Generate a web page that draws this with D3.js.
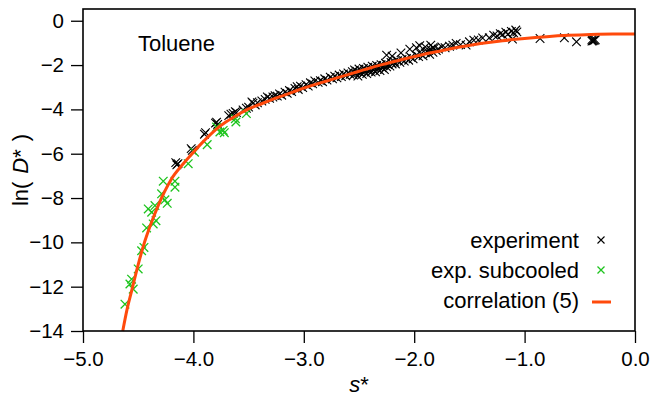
<!DOCTYPE html>
<html>
<head>
<meta charset="utf-8">
<script src="https://cdn.jsdelivr.net/npm/d3@7"></script>
<style>
  body { margin: 0; background: #fff; }
  svg { font-family: "Liberation Sans", Arial, Helvetica, sans-serif; }
</style>
</head>
<body>
<div id="wrapper"></div>
<script>
// data: [s*, ln(D*)]
const experiment = [
  [-4.16,-6.40],[-4.15,-6.50],[-4.14,-6.45],
  [-4.02,-5.77],[-4.01,-5.85],
  [-3.90,-5.12],[-3.89,-5.05],
  [-3.80,-4.62],[-3.78,-4.68],[-3.79,-4.58],
  [-3.68,-4.28],[-3.66,-4.22],[-3.64,-4.18],[-3.62,-4.10],[-3.61,-4.14],
  [-3.55,-4.02],[-3.52,-3.95],[-3.50,-3.90],
  [-3.47,-3.66],[-3.46,-3.72],[-3.44,-3.80],[-3.42,-3.70],
  [-3.38,-3.62],[-3.35,-3.55],[-3.33,-3.44],[-3.31,-3.50],
  [-3.28,-3.44],[-3.26,-3.38],[-3.24,-3.40],[-3.22,-3.30],[-3.20,-3.36],
  [-3.17,-3.22],[-3.15,-3.28],[-3.13,-3.15],[-3.11,-3.20],
  [-3.08,-3.05],[-3.06,-2.98],[-3.05,-3.10],[-3.03,-2.95],[-3.01,-3.02],
  [-2.98,-2.88],[-2.96,-2.95],[-2.94,-2.80],[-2.92,-2.85],[-2.90,-2.72],
  [-2.87,-2.78],[-2.85,-2.70],[-2.83,-2.75],[-2.81,-2.62],[-2.79,-2.68],
  [-2.76,-2.55],[-2.74,-2.62],[-2.72,-2.50],[-2.70,-2.58],[-2.68,-2.45],
  [-2.66,-2.52],[-2.64,-2.40],[-2.62,-2.48],[-2.60,-2.35],[-2.58,-2.42],
  [-2.56,-2.30],[-2.55,-2.45],[-2.54,-2.22],[-2.53,-2.38],[-2.52,-2.28],[-2.51,-2.50],
  [-2.50,-2.18],[-2.49,-2.35],[-2.48,-2.25],[-2.47,-2.42],[-2.46,-2.15],[-2.45,-2.30],
  [-2.44,-2.20],[-2.43,-2.38],[-2.42,-2.10],[-2.41,-2.28],[-2.40,-2.18],[-2.39,-2.32],
  [-2.38,-2.05],[-2.37,-2.22],[-2.36,-2.12],[-2.35,-2.30],[-2.34,-2.02],[-2.33,-2.18],
  [-2.32,-2.08],[-2.31,-2.25],[-2.30,-1.98],[-2.29,-2.12],[-2.28,-2.02],[-2.27,-2.20],
  [-2.26,-1.92],[-2.25,-2.08],[-2.24,-1.98],[-2.22,-2.05],[-2.21,-1.88],[-2.20,-1.95],
  [-2.18,-1.85],[-2.17,-1.95],[-2.15,-1.80],[-2.13,-1.88],[-2.11,-1.75],[-2.09,-1.82],
  [-2.07,-1.70],[-2.05,-1.78],[-2.03,-1.65],[-2.01,-1.72],
  [-2.25,-1.55],[-2.20,-1.60],[-2.12,-1.45],[-2.04,-1.28],[-1.98,-1.22],
  [-1.95,-1.12],[-1.90,-1.18],[-1.85,-1.10],[-1.83,-1.22],
  [-1.98,-1.55],[-1.96,-1.62],[-1.94,-1.50],[-1.92,-1.58],[-1.90,-1.45],
  [-1.88,-1.38],[-1.86,-1.52],[-1.85,-1.30],[-1.83,-1.42],[-1.82,-1.25],[-1.80,-1.35],
  [-1.78,-1.28],[-1.75,-1.18],[-1.72,-1.22],[-1.68,-1.15],[-1.65,-1.10],[-1.62,-1.02],
  [-1.58,-1.08],[-1.53,-1.10],[-1.50,-0.95],[-1.46,-0.88],[-1.42,-0.87],
  [-1.38,-0.78],[-1.32,-0.77],[-1.28,-0.65],[-1.25,-0.68],[-1.22,-0.58],[-1.20,-0.62],
  [-1.17,-0.52],[-1.15,-0.60],[-1.12,-0.48],[-1.11,-0.83],[-1.10,-0.55],[-1.08,-0.42],[-1.07,-0.50],
  [-0.86,-0.80],[-0.64,-0.77],[-0.53,-0.95],
  [-0.39,-0.85],[-0.38,-0.90],[-0.37,-0.88],[-0.39,-0.92],[-0.36,-0.86]
]

const subcooled = [
  [-4.62,-12.79],[-4.575,-11.88],[-4.56,-11.66],[-4.545,-12.11],[-4.50,-11.20],
  [-4.469,-10.38],[-4.448,-10.23],[-4.424,-9.35],[-4.409,-8.49],[-4.378,-8.64],
  [-4.348,-8.34],[-4.364,-9.17],[-4.339,-9.02],[-4.288,-7.81],[-4.258,-8.08],
  [-4.237,-8.24],[-4.273,-7.24],[-4.167,-7.24],[-4.167,-7.51],[-4.047,-6.45],
  [-3.99,-5.93],[-3.875,-5.59],[-3.79,-4.80],[-3.76,-5.02],[-3.73,-4.95],
  [-3.72,-5.05],[-3.615,-4.57],[-3.62,-4.42],[-3.52,-4.19]
]

const correlation = [
  [-4.64,-14.0],[-4.60,-13.0],[-4.56,-12.2],[-4.50,-11.0],[-4.44,-9.95],
  [-4.38,-9.1],[-4.32,-8.35],[-4.26,-7.7],[-4.20,-7.15],[-4.10,-6.5],
  [-4.0,-5.93],[-3.90,-5.4],[-3.80,-4.92],[-3.70,-4.55],[-3.60,-4.25],
  [-3.50,-3.98],[-3.40,-3.78],[-3.30,-3.58],[-3.20,-3.4],[-3.10,-3.22],
  [-3.0,-3.04],[-2.90,-2.88],[-2.80,-2.73],[-2.70,-2.58],[-2.60,-2.43],
  [-2.50,-2.28],[-2.40,-2.13],[-2.30,-1.99],[-2.20,-1.86],[-2.10,-1.74],
  [-2.0,-1.62],[-1.90,-1.5],[-1.80,-1.4],[-1.60,-1.2],[-1.40,-1.03],
  [-1.20,-0.9],[-1.0,-0.8],[-0.80,-0.72],[-0.60,-0.66],[-0.40,-0.62],
  [-0.20,-0.6],[0,-0.6]
]

const xTicks = [-5, -4, -3, -2, -1, 0]
const yTicks = [0, -2, -4, -6, -8, -10, -12, -14]
const legendLabels = ["experiment", "exp. subcooled", "correlation (5)"]

const sAccessor = d => d[0]
const lnAccessor = d => d[1]

// dims
let dims = {
    width: 652,
    height: 399,
    margin: { top: 9, right: 17, bottom: 68, left: 83 }
}
dims.boundedWidth = dims.width - dims.margin.left - dims.margin.right
dims.boundedHeight = dims.height - dims.margin.top - dims.margin.bottom

const svg = d3.select("#wrapper")
    .append("svg")
    .attr("width", dims.width)
    .attr("height", dims.height)

const bounds = svg.append("g")
    .attr("transform", `translate(${dims.margin.left},${dims.margin.top})`)

// scales
const xScale = d3.scaleLinear()
    .domain([-5, 0])
    .range([0, dims.boundedWidth])

const yScale = d3.scaleLinear()
    .domain([-14, 0.53])
    .range([dims.boundedHeight, 0])

const green = "#1ec41e"
const orange = "#ff4a0c"

// x marks
const cross = (sel, size) => sel.attr("d", `M${-size},${-size}L${size},${size}M${-size},${size}L${size},${-size}`)

bounds.append("g")
    .selectAll("path")
    .data(experiment)
    .join("path")
    .call(cross, 4.3)
    .attr("transform", d => `translate(${xScale(sAccessor(d))},${yScale(lnAccessor(d))})`)
    .attr("stroke", "#000")
    .attr("stroke-width", 1.1)
    .attr("fill", "none")

bounds.append("g")
    .selectAll("path")
    .data(subcooled)
    .join("path")
    .call(cross, 4.3)
    .attr("transform", d => `translate(${xScale(sAccessor(d))},${yScale(lnAccessor(d))})`)
    .attr("stroke", green)
    .attr("stroke-width", 1.3)
    .attr("fill", "none")

const lineGen = d3.line()
    .x(d => xScale(sAccessor(d)))
    .y(d => yScale(lnAccessor(d)))
    .curve(d3.curveMonotoneX)

bounds.append("path")
    .datum(correlation)
    .attr("d", lineGen)
    .attr("fill", "none")
    .attr("stroke", orange)
    .attr("stroke-width", 3)

// frame
bounds.append("rect")
    .attr("width", dims.boundedWidth)
    .attr("height", dims.boundedHeight)
    .attr("fill", "none")
    .attr("stroke", "#000")
    .attr("stroke-width", 1.6)

// axes
const xAxisGenerator = d3.axisBottom(xScale)
    .tickValues(xTicks)
    .tickFormat(d3.format(".1f"))
    .tickSizeInner(12)
    .tickSizeOuter(0)
    .tickPadding(8)

const xAxis = bounds.append("g")
    .attr("transform", `translate(0,${dims.boundedHeight})`)
    .call(xAxisGenerator)

const yAxisGenerator = d3.axisLeft(yScale)
    .tickValues(yTicks)
    .tickSizeInner(12)
    .tickSizeOuter(0)
    .tickPadding(7)

const yAxis = bounds.append("g")
    .call(yAxisGenerator)

for (const ax of [xAxis, yAxis]) {
    ax.select(".domain").remove()
    ax.selectAll(".tick line").attr("stroke", "#000").attr("stroke-width", 1.3)
    ax.selectAll(".tick text")
        .attr("fill", "#000")
        .style("font-size", "20.5px")
        .style("font-family", "'Liberation Sans', Arial, sans-serif")
}

// axis titles
svg.append("text")
    .attr("x", dims.margin.left + dims.boundedWidth / 2)
    .attr("y", 392)
    .attr("text-anchor", "middle")
    .style("font-size", "22px")
    .html('<tspan font-style="italic">s</tspan><tspan>*</tspan>')

svg.append("text")
    .attr("transform", `translate(28,${dims.margin.top + dims.boundedHeight / 2}) rotate(-90)`)
    .attr("text-anchor", "middle")
    .style("font-size", "22px")
    .html('<tspan>ln(</tspan><tspan dx="8" font-style="italic">D</tspan><tspan>*</tspan><tspan dx="8">)</tspan>')

// label
svg.append("text")
    .attr("x", 138)
    .attr("y", 51)
    .style("font-size", "22px")
    .text("Toluene")

// legend
const legend = svg.append("g")
const rowY = [240, 270, 300]

legend.selectAll("text")
    .data(legendLabels)
    .join("text")
    .attr("x", 579)
    .attr("y", (d, i) => rowY[i])
    .attr("dy", "0.35em")
    .attr("text-anchor", "end")
    .style("font-size", "22px")
    .text(d => d)

legend.append("path")
    .call(cross, 3.5)
    .attr("transform", `translate(601,${rowY[0]})`)
    .attr("stroke", "#000")
    .attr("stroke-width", 1.1)

legend.append("path")
    .call(cross, 3.5)
    .attr("transform", `translate(601,${rowY[1]})`)
    .attr("stroke", green)
    .attr("stroke-width", 1.3)

legend.append("line")
    .attr("x1", 592)
    .attr("x2", 611)
    .attr("y1", rowY[2] + 2)
    .attr("y2", rowY[2] + 2)
    .attr("stroke", orange)
    .attr("stroke-width", 3)
</script>
</body>
</html>
